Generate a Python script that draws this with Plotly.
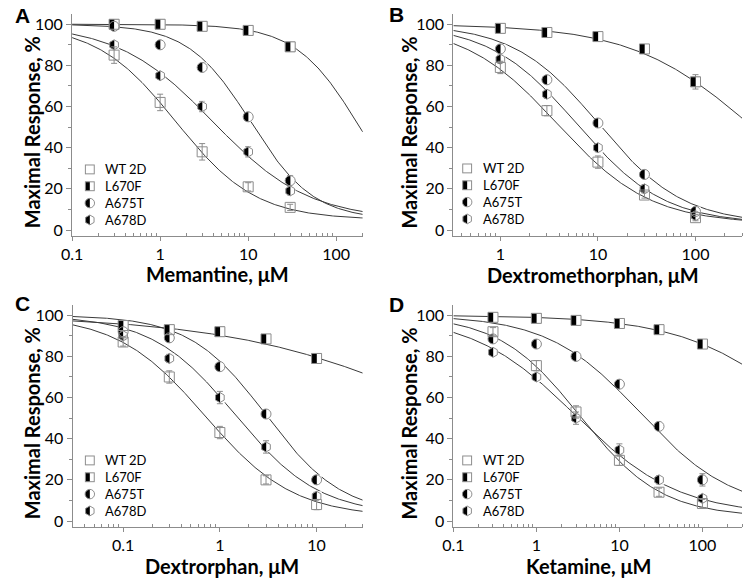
import base64
import numpy as np
import plotly.graph_objects as go

ANCHO, ALTO = 745, 585
FUENTE = "Lato"
GRIS = "#8c8c8c"
COLOR_CURVA = "#3a3a3a"
TAM = 10  # tamaño de los marcadores (px)
TAM_LEYENDA = 13

series = ["WT 2D", "L670F", "A675T", "A678D"]
simbolos = ["square", "square", "circle", "hexagon"]

# ---- A: Memantina ----
conc_memantina = [0.3, 1, 3, 10, 30]
mem_wt = [85, 62, 38, 21, 11]
mem_wt_err = [4, 4, 4, 2, 1.5]
mem_l670f = [100, 100, 99, 97, 89]
mem_l670f_err = [1.5, 1, 1.5, 1.5, 1.5]
mem_a675t = [99, 90, 79, 55, 24]
mem_a675t_err = [1, 1, 1, 1, 2.5]
mem_a678d = [90, 75, 60, 38, 19]
mem_a678d_err = [1.5, 1.5, 2.5, 2.5, 2]
# parámetros del ajuste de Hill: IC50 (µM), pendiente, fondo (%)
mem_ic50 = [1.52, 185, 10.7, 4.0]
mem_nh = [0.96, 1.2, 1.22, 0.8]
mem_fondo = [5, 0, 5, 5]

# ---- B: Dextrometorfano ----
conc_dextrometorfano = [1, 3, 10, 30, 100]
dxm_wt = [79, 58, 33, 17, 6]
dxm_wt_err = [3, 2.5, 3, 1.5, 1.5]
dxm_l670f = [98, 96, 94, 88, 72]
dxm_l670f_err = [1.5, 2, 1.5, 1.5, 3.5]
dxm_a675t = [88, 73, 52, 27, 9]
dxm_a675t_err = [1.5, 1.5, 1.5, 1.5, 1.5]
dxm_a678d = [83, 66, 40, 20, 7]
dxm_a678d_err = [2, 2, 2, 2, 1.5]
dxm_ic50 = [3.86, 385, 10.2, 6.1]
dxm_nh = [0.91, 0.7, 1.0, 0.97]
dxm_fondo = [3, 0, 3, 3]

# ---- C: Dextrorfano ----
conc_dextrorfano = [0.1, 0.3, 1, 3, 10]
dxo_wt = [87, 70, 43, 20, 8]
dxo_wt_err = [2, 3, 3, 2, 2.5]
dxo_l670f = [95, 93, 92, 88.5, 79]
dxo_l670f_err = [1.5, 1.5, 1.5, 1.5, 1.5]
dxo_a675t = [92, 89, 75, 52, 20]
dxo_a675t_err = [1.5, 1.5, 1.5, 1.5, 1.5]
dxo_a678d = [90, 79, 60, 36, 12]
dxo_a678d_err = [2, 2, 3, 3, 2]
dxo_ic50 = [0.707, 355, 3.0, 1.45]
dxo_nh = [0.95, 0.38, 1.1, 1.0]
dxo_fondo = [2, 0, 3, 3]

# ---- D: Ketamina ----
conc_ketamina = [0.3, 1, 3, 10, 30, 100]
ket_wt = [92, 75.5, 53, 29.5, 14, 8.5]
ket_wt_err = [2, 2.5, 3, 2.5, 2, 2]
ket_l670f = [99, 98.5, 97.5, 96, 93, 86]
ket_l670f_err = [1.5, 1.5, 1.5, 1.5, 1.5, 1.5]
ket_a675t = [88.5, 86, 80, 66.5, 46, 20]
ket_a675t_err = [1.5, 1.5, 1.5, 1.5, 1.5, 3]
ket_a678d = [82, 70, 50, 34.5, 20, 11]
ket_a678d_err = [1.5, 1.5, 3, 3, 2, 1.5]
ket_ic50 = [3.36, 2160, 17.9, 2.94]
ket_nh = [0.886, 0.59, 0.78, 0.7]
ket_fondo = [2, 0, 5, 3]

paneles = [
    dict(letra="A", titulo="Memantine, μM", conc=conc_memantina,
         valores=[mem_wt, mem_l670f, mem_a675t, mem_a678d],
         errores=[mem_wt_err, mem_l670f_err, mem_a675t_err, mem_a678d_err],
         ic50=mem_ic50, nh=mem_nh, fondo=mem_fondo,
         rango_x=(0.1, 200), ticks_x=[0.1, 1, 10, 100], ticktext=["0.1", "1", "10", "100"],
         caja=(62, 357, 14, 237), letra_pos=(12, 16), titulo_x=(210, 275), titulo_y=(21, 133),
         leyenda=(80, 93, 170)),
    dict(letra="B", titulo="Dextromethorphan, μM", conc=conc_dextrometorfano,
         valores=[dxm_wt, dxm_l670f, dxm_a675t, dxm_a678d],
         errores=[dxm_wt_err, dxm_l670f_err, dxm_a675t_err, dxm_a678d_err],
         ic50=dxm_ic50, nh=dxm_nh, fondo=dxm_fondo,
         rango_x=(0.33, 300), ticks_x=[1, 10, 100], ticktext=["1", "10", "100"],
         caja=(449, 742, 14, 237), letra_pos=(391, 15), titulo_x=(591, 276), titulo_y=(403, 133),
         leyenda=(463, 477, 169)),
    dict(letra="C", titulo="Dextrorphan, μM", conc=conc_dextrorfano,
         valores=[dxo_wt, dxo_l670f, dxo_a675t, dxo_a678d],
         errores=[dxo_wt_err, dxo_l670f_err, dxo_a675t_err, dxo_a678d_err],
         ic50=dxo_ic50, nh=dxo_nh, fondo=dxo_fondo,
         rango_x=(0.03, 30), ticks_x=[0.1, 1, 10], ticktext=["0.1", "1", "10"],
         caja=(62.5, 357, 306, 529), letra_pos=(11.5, 305), titulo_x=(214, 568), titulo_y=(21, 425),
         leyenda=(80, 93, 462)),
    dict(letra="D", titulo="Ketamine, μM", conc=conc_ketamina,
         valores=[ket_wt, ket_l670f, ket_a675t, ket_a678d],
         errores=[ket_wt_err, ket_l670f_err, ket_a675t_err, ket_a678d_err],
         ic50=ket_ic50, nh=ket_nh, fondo=ket_fondo,
         rango_x=(0.1, 300), ticks_x=[0.1, 1, 10, 100], ticktext=["0.1", "1", "10", "100"],
         caja=(449, 742, 306, 529), letra_pos=(391.5, 306), titulo_x=(586, 568), titulo_y=(403, 425),
         leyenda=(463, 477, 462)),
]


def icono_svg(simbolo, medio):
    """Icono de leyenda: contorno gris y, si corresponde, mitad izquierda negra."""
    formas = {
        "square": '<rect x="1.5" y="1.5" width="9" height="9"/>',
        "circle": '<circle cx="6" cy="6" r="4.8"/>',
        "hexagon": '<polygon points="6,1 10.3,3.5 10.3,8.5 6,11 1.7,8.5 1.7,3.5"/>',
    }
    f = formas[simbolo]
    partes = ['<svg xmlns="http://www.w3.org/2000/svg" width="12" height="12" viewBox="0 0 12 12">']
    if medio:
        partes.append('<defs><clipPath id="m"><rect x="0" y="0" width="6" height="12"/></clipPath></defs>')
        partes.append(f'<g fill="white">{f}</g><g clip-path="url(#m)" fill="black">{f}</g>')
    partes.append(f'<g fill="none" stroke="{GRIS}" stroke-width="1">{f}</g></svg>')
    return "data:image/svg+xml;base64," + base64.b64encode("".join(partes).encode()).decode()


fig = go.Figure()
ejes = {}
imagenes = []
anotaciones = []
fuente_ticks = dict(family=FUENTE, size=16, color="black")

for i, p in enumerate(paneles, start=1):
    sx = "" if i == 1 else str(i)
    xb, yb = "x" + sx, "y" + sx
    xd, xs = f"x{i + 4}", f"x{i + 8}"  # eje desplazado (mitad blanca) y eje superior (contornos)
    x0, x1, y0, y1 = p["caja"]
    dom_x = [x0 / ANCHO, x1 / ANCHO]
    dom_y = [1 - y1 / ALTO, 1 - y0 / ALTO]
    lo, hi = np.log10(p["rango_x"])
    d = 2.75 * (hi - lo) / (x1 - x0)  # 2.75 px en unidades log

    # Curvas de ajuste
    xc = np.logspace(lo, hi, 300)
    for k in range(4):
        yc = p["fondo"][k] + (100 - p["fondo"][k]) / (1 + (xc / p["ic50"][k]) ** p["nh"][k])
        fig.add_trace(go.Scatter(x=xc, y=yc, mode="lines", line=dict(color=COLOR_CURVA, width=1),
                                 xaxis=xb, yaxis=yb, hoverinfo="skip"))

    # Capa 1: forma negra completa con barras de error
    for k in (1, 2, 3):
        fig.add_trace(go.Scatter(
            x=p["conc"], y=p["valores"][k], mode="markers", name=series[k],
            marker=dict(symbol=simbolos[k], size=TAM, color="black", line=dict(width=0)),
            error_y=dict(type="data", array=p["errores"][k], color=GRIS, thickness=1, width=3),
            xaxis=xb, yaxis=yb,
        ))
    # Capa 2: rectángulo blanco sobre la mitad derecha
    for k in (1, 2, 3):
        fig.add_trace(go.Scatter(
            x=p["conc"], y=p["valores"][k], mode="markers",
            marker=dict(symbol="line-ns", size=TAM / 1.4, color="white",
                        line=dict(color="white", width=TAM / 2)),
            xaxis=xd, yaxis=yb, hoverinfo="skip",
        ))
    # Capa 3: contornos grises y WT 2D
    for k in (1, 2, 3):
        fig.add_trace(go.Scatter(
            x=p["conc"], y=p["valores"][k], mode="markers",
            marker=dict(symbol=simbolos[k] + "-open", size=TAM, color=GRIS, line=dict(width=1)),
            xaxis=xs, yaxis=yb, hoverinfo="skip",
        ))
    fig.add_trace(go.Scatter(
        x=p["conc"], y=p["valores"][0], mode="markers", name=series[0],
        marker=dict(symbol="square-open", size=TAM, color=GRIS, line=dict(width=1)),
        error_y=dict(type="data", array=p["errores"][0], color=GRIS, thickness=1, width=3),
        xaxis=xs, yaxis=yb,
    ))

    menores = [m * 10.0 ** e for e in range(-2, 3) for m in range(2, 10)
               if lo <= np.log10(m * 10.0 ** e) <= hi]
    ejes[f"xaxis{sx}"] = dict(
        domain=dom_x, anchor=yb, type="log", range=[lo, hi],
        showline=True, linecolor=GRIS, linewidth=1, showgrid=False, zeroline=False,
        ticks="outside", ticklen=4, tickcolor=GRIS,
        tickvals=p["ticks_x"], ticktext=p["ticktext"], tickfont=fuente_ticks,
        minor=dict(tickvals=menores, ticks="inside", ticklen=3, tickcolor=GRIS, showgrid=False),
    )
    ejes[f"yaxis{sx}"] = dict(
        domain=dom_y, anchor=xb, range=[-3, 105],
        showline=True, linecolor=GRIS, linewidth=1, showgrid=False, zeroline=False,
        ticks="outside", ticklen=5, tickcolor=GRIS,
        tickvals=[0, 20, 40, 60, 80, 100], tickfont=fuente_ticks,
        minor=dict(tickvals=[10, 30, 50, 70, 90], ticks="outside", ticklen=3, tickcolor=GRIS, showgrid=False),
    )
    ejes[f"xaxis{i + 4}"] = dict(domain=dom_x, anchor=yb, overlaying=xb, type="log",
                                 range=[lo - d, hi - d], visible=False)
    ejes[f"xaxis{i + 8}"] = dict(domain=dom_x, anchor=yb, overlaying=xb, type="log",
                                 range=[lo, hi], visible=False)

    # Letra del panel y títulos de ejes
    lx, ly = p["letra_pos"]
    anotaciones.append(dict(text=f"<b>{p['letra']}</b>", x=lx / ANCHO, y=1 - ly / ALTO,
                            xref="paper", yref="paper", showarrow=False,
                            font=dict(family="Liberation Sans", size=21, color="black"),
                            xanchor="center", yanchor="middle"))
    tx, ty = p["titulo_x"]
    anotaciones.append(dict(text=f"<b>{p['titulo']}</b>", x=tx / ANCHO, y=1 - ty / ALTO,
                            xref="paper", yref="paper", showarrow=False,
                            font=dict(family=FUENTE, size=20, color="black"),
                            xanchor="center", yanchor="middle"))
    vx, vy = p["titulo_y"]
    anotaciones.append(dict(text="<b>Maximal Response, %</b>", x=vx / ANCHO, y=1 - vy / ALTO,
                            xref="paper", yref="paper", showarrow=False, textangle=-90,
                            font=dict(family=FUENTE, size=20, color="black"),
                            xanchor="center", yanchor="middle"))

    # Leyenda manual dentro de cada panel (iconos + un bloque de texto)
    ix, txl, fila0 = p["leyenda"]
    paso = 1.3 * TAM_LEYENDA
    for k in range(4):
        fy = fila0 + paso * k
        imagenes.append(dict(source=icono_svg(simbolos[k], k > 0), xref="paper", yref="paper",
                             x=ix / ANCHO, y=1 - fy / ALTO, sizex=12 / ANCHO, sizey=12 / ALTO,
                             xanchor="center", yanchor="middle", sizing="contain", layer="above"))
    anotaciones.append(dict(text="<br>".join(series), x=txl / ANCHO, y=1 - (fila0 + 1.5 * paso) / ALTO,
                            xref="paper", yref="paper", showarrow=False, align="left",
                            font=dict(family=FUENTE, size=TAM_LEYENDA, color="black"),
                            xanchor="left", yanchor="middle"))

fig.update_layout(
    width=ANCHO, height=ALTO, autosize=False,
    margin=dict(l=0, r=0, t=0, b=0),
    paper_bgcolor="white", plot_bgcolor="white",
    showlegend=False, hovermode=False,
    font=dict(family=FUENTE, color="black"),
    annotations=anotaciones, images=imagenes,
    **ejes,
)

# quitar el margen por defecto del <body> para que la figura quede en (0, 0)
fig.write_html("out.html", config={"displayModeBar": False},
               post_script="document.body.style.margin = '0';")
